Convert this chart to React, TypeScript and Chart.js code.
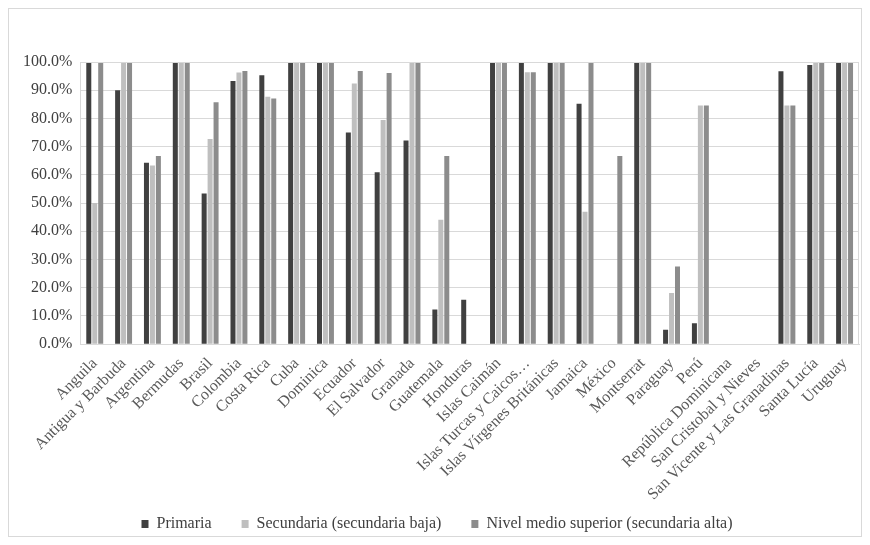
import React, { useEffect, useRef } from "react";
import { Chart, registerables } from "chart.js";

Chart.register(...registerables);

const categories = [
  "Anguila", "Antigua y Barbuda", "Argentina", "Bermudas", "Brasil", "Colombia",
  "Costa Rica", "Cuba", "Dominica", "Ecuador", "El Salvador", "Granada",
  "Guatemala", "Honduras", "Islas Caimán", "Islas Turcas y Caicos…",
  "Islas Vírgenes Británicas", "Jamaica", "México", "Montserrat", "Paraguay",
  "Perú", "República Dominicana", "San Cristobal y Nieves",
  "San Vicente y Las Granadinas", "Santa Lucía", "Uruguay",
];

const primaria = [
  100, 90, 64.3, 100, 53.4, 93.3, 95.3, 100, 100, 75.0, 60.9, 72.2, 12.3, 15.7,
  100, 100, 100, 85.2, 0, 100, 5.1, 7.4, 0, 0, 96.7, 98.9, 100,
];
const secundaria = [
  50, 100, 63.3, 100, 72.7, 96.3, 87.7, 100, 100, 92.4, 79.4, 100, 44.1, 0,
  100, 96.4, 100, 46.9, 0, 100, 18.1, 84.6, 0, 0, 84.6, 100, 100,
];
const nivelMedio = [
  100, 100, 66.7, 100, 85.7, 96.8, 87.1, 100, 100, 96.8, 96.1, 100, 66.7, 0,
  100, 96.4, 100, 100, 66.7, 100, 27.5, 84.6, 0, 0, 84.6, 100, 100,
];

const seriesNames = [
  "Primaria",
  "Secundaria (secundaria baja)",
  "Nivel medio superior (secundaria alta)",
];
const seriesColors = ["#404040", "#bfbfbf", "#8c8c8c"];

const FONT = "'Liberation Serif', 'Times New Roman', serif";
const LEGEND_GAP = "     ";

const plotBox = {
  id: "plotBox",
  afterDraw(chart: any) {
    const { ctx, chartArea } = chart;
    ctx.save();
    ctx.strokeStyle = "#d9d9d9";
    ctx.lineWidth = 1;
    ctx.strokeRect(
      Math.round(chartArea.left) + 0.5,
      Math.round(chartArea.top) + 0.5,
      Math.round(chartArea.right - chartArea.left) - 1,
      Math.round(chartArea.bottom - chartArea.top)
    );
    ctx.restore();
  },
};

export default function App() {
  const ref = useRef<HTMLCanvasElement>(null);
  useEffect(() => {
    if (!ref.current) return;
    const data = [primaria, secundaria, nivelMedio];
    const chart = new Chart(ref.current, {
      type: "bar",
      data: {
        labels: categories,
        datasets: seriesNames.map((name, i) => ({
          label: name,
          data: data[i],
          backgroundColor: seriesColors[i],
          borderWidth: 0,
          barPercentage: 0.84,
          categoryPercentage: 0.62,
        })),
      },
      options: {
        animation: false,
        responsive: false,
        maintainAspectRatio: false,
        layout: { padding: { left: 6, right: 2, top: 53, bottom: -6 } },
        plugins: {
          legend: {
            position: "bottom",
            labels: {
              font: { family: FONT, size: 16 },
              color: "#404040",
              boxWidth: 7,
              boxHeight: 8,
              padding: 10,
              generateLabels: (c: any) =>
                Chart.defaults.plugins.legend.labels
                  .generateLabels(c)
                  .map((item: any, i: number, arr: any[]) => ({
                    ...item,
                    lineWidth: 0,
                    text: i < arr.length - 1 ? item.text + LEGEND_GAP : item.text,
                  })),
            },
          },
          tooltip: { enabled: false },
        },
        scales: {
          x: {
            grid: { display: false },
            border: { display: true, color: "#d9d9d9" },
            ticks: {
              font: { family: FONT, size: 16 },
              color: "#595959",
              maxRotation: 45,
              minRotation: 45,
              autoSkip: false,
              padding: 2,
            },
          },
          y: {
            min: 0,
            max: 100,
            grid: { color: "#d9d9d9", drawTicks: false },
            border: { display: true, color: "#d9d9d9" },
            ticks: {
              stepSize: 10,
              padding: 8,
              font: { family: FONT, size: 16 },
              color: "#404040",
              callback: (v: any) => Number(v).toFixed(1) + "%",
            },
          },
        },
      },
      plugins: [plotBox],
    });
    return () => chart.destroy();
  }, []);
  return (
    <div style={{ width: 852, height: 527, border: "1px solid #d9d9d9" }}>
      <canvas ref={ref} width={852} height={527} />
    </div>
  );
}
